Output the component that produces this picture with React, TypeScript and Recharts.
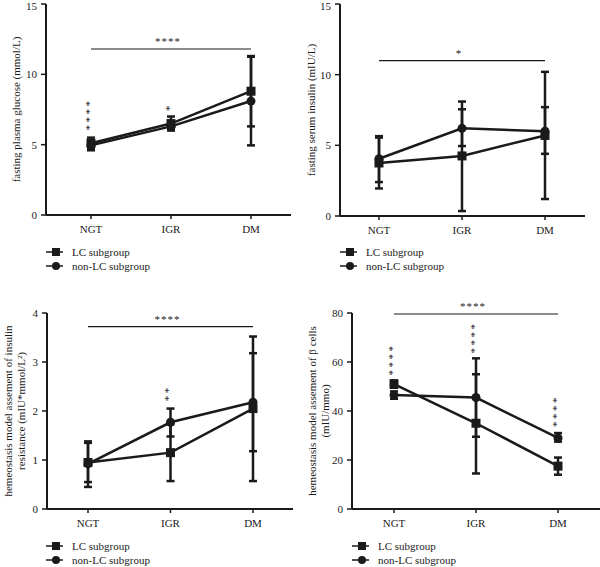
import React from 'react';
import { LineChart, Line, XAxis, YAxis, ErrorBar, ReferenceLine, ReferenceDot } from 'recharts';

const groups = ['NGT', 'IGR', 'DM'];

// fasting plasma glucose (mmol/L)
const fpgLc = [5.1, 6.5, 8.8];
const fpgLcLow = [4.6, 6.0, 6.3];
const fpgLcHigh = [5.5, 7.0, 11.3];
const fpgNon = [4.95, 6.3, 8.1];
const fpgNonLow = [4.7, 6.1, 4.95];
const fpgNonHigh = [5.3, 6.6, 11.25];

// fasting serum insulin (mIU/L)
const finsLc = [3.75, 4.25, 5.7];
const finsLcLow = [1.95, 0.35, 1.2];
const finsLcHigh = [5.55, 8.1, 10.2];
const finsNon = [4.05, 6.2, 6.0];
const finsNonLow = [2.4, 4.95, 4.4];
const finsNonHigh = [5.65, 7.55, 7.7];

// HOMA-IR
const irLc = [0.95, 1.15, 2.05];
const irLcLow = [0.55, 0.57, 0.57];
const irLcHigh = [1.35, 1.73, 3.52];
const irNon = [0.92, 1.77, 2.18];
const irNonLow = [0.45, 1.48, 1.18];
const irNonHigh = [1.38, 2.05, 3.18];

// HOMA-beta
const betaLc = [51, 35, 17.5];
const betaLcLow = [49.5, 14.5, 14];
const betaLcHigh = [52.5, 55, 21];
const betaNon = [46.5, 45.5, 29];
const betaNonLow = [45, 29.5, 27.5];
const betaNonHigh = [48, 61.5, 31];

const FONT = '"Liberation Serif", "DejaVu Serif", serif';
const INK = '#1a1a1a';

function buildRows(lc: number[], lcLo: number[], lcHi: number[], non: number[], nonLo: number[], nonHi: number[]) {
  return groups.map((g, i) => ({
    name: g,
    lc: lc[i],
    lcErr: [lc[i] - lcLo[i], lcHi[i] - lc[i]],
    non: non[i],
    nonErr: [non[i] - nonLo[i], nonHi[i] - non[i]],
  }));
}

const SquareDot = (p: any) => {
  if (p.cx == null || p.cy == null) return <g key={p.key} />;
  return <rect key={p.key} x={p.cx - 4.5} y={p.cy - 4.5} width={9} height={9} fill={INK} />;
};

const CircleDot = (p: any) => {
  if (p.cx == null || p.cy == null) return <g key={p.key} />;
  return <circle key={p.key} cx={p.cx} cy={p.cy} r={4.5} fill={INK} />;
};

// vertical stack of asterisks, drawn as one rotated text starting at the bottom
const StarStack = ({ cx, cy, n }: any) => (
  <text
    x={cx}
    y={cy}
    transform={`rotate(-90 ${cx} ${cy})`}
    textAnchor="start"
    dominantBaseline="central"
    fontSize={11}
    fill={INK}
    fontFamily={FONT}
    letterSpacing={2.5}
  >
    {'*'.repeat(n)}
  </text>
);

const StarRow = ({ cx, cy, text }: any) => (
  <text x={cx} y={cy} textAnchor="middle" fontSize={11} fill={INK} fontFamily={FONT} letterSpacing={1}>{text}</text>
);

interface Stars { x: string; y: number; n: number; }

interface PanelProps {
  left: number;
  top: number;
  width: number;
  height: number;
  margin: { top: number; right: number; left: number; bottom: number };
  yWidth: number;
  pad: { left: number; right: number };
  data: any[];
  domain: [number, number];
  ticks: number[];
  title: string[];
  titleX: number;
  sig: number;
  sigText: string;
  stars: Stars[];
}

function Panel(p: PanelProps) {
  return (
    <div style={{ position: 'absolute', left: p.left, top: p.top }}>
      <LineChart width={p.width} height={p.height} data={p.data} margin={p.margin} style={{ overflow: 'visible' }}>
        <XAxis
          dataKey="name"
          padding={p.pad}
          axisLine={{ stroke: INK, strokeWidth: 2 }}
          tickLine={{ stroke: INK, strokeWidth: 1.5 }}
          tickSize={4}
          tickMargin={6}
          height={30}
          tick={{ fontSize: 11, fill: INK, fontFamily: FONT }}
        />
        <YAxis
          width={p.yWidth}
          domain={p.domain}
          ticks={p.ticks}
          allowDataOverflow
          axisLine={{ stroke: INK, strokeWidth: 2 }}
          tickLine={{ stroke: INK, strokeWidth: 1.5 }}
          tickSize={5}
          tickMargin={4}
          tick={{ fontSize: 11, fill: INK, fontFamily: FONT }}
          label={{
            content: (lp: any) => {
              const vb = lp.viewBox || {};
              const cy = vb.y + vb.height / 2;
              const n = p.title.length;
              return (
                <g>
                  {p.title.map((t, i) => {
                    const x = p.titleX + (i - (n - 1) / 2) * 13;
                    return (
                      <text key={i} x={x} y={cy} transform={`rotate(-90 ${x} ${cy})`} textAnchor="middle" dominantBaseline="central" fontSize={11} fill={INK} fontFamily={FONT}>
                        {t}
                      </text>
                    );
                  })}
                </g>
              );
            },
          }}
        />
        <ReferenceLine segment={[{ x: 'NGT', y: p.sig }, { x: 'DM', y: p.sig }]} stroke={INK} strokeWidth={1.2} ifOverflow="visible" />
        <ReferenceDot x="IGR" y={p.sig} r={0} ifOverflow="visible" shape={(sp: any) => <StarRow cx={sp.cx - 3} cy={sp.cy - 4} text={p.sigText} />} />
        {p.stars.map((s, i) => (
          <ReferenceDot key={i} x={s.x} y={s.y} r={0} ifOverflow="visible" shape={(sp: any) => <StarStack cx={sp.cx - 2} cy={sp.cy} n={s.n} />} />
        ))}
        <Line dataKey="lc" stroke={INK} strokeWidth={2.5} dot={SquareDot} isAnimationActive={false}>
          <ErrorBar dataKey="lcErr" width={4} stroke={INK} strokeWidth={2.5} direction="y" />
        </Line>
        <Line dataKey="non" stroke={INK} strokeWidth={2.5} dot={CircleDot} isAnimationActive={false}>
          <ErrorBar dataKey="nonErr" width={4} stroke={INK} strokeWidth={2.5} direction="y" />
        </Line>
      </LineChart>
    </div>
  );
}

function LegendBox({ left, top }: { left: number; top: number }) {
  return (
    <svg style={{ position: 'absolute', left, top }} width={160} height={30}>
      <line x1={0} y1={6} x2={17} y2={6} stroke={INK} strokeWidth={1.5} />
      <rect x={6} y={2} width={8} height={8} fill={INK} />
      <text x={26} y={10} fontSize={11} fill={INK} fontFamily={FONT}>LC subgroup</text>
      <line x1={0} y1={20} x2={17} y2={20} stroke={INK} strokeWidth={1.5} />
      <circle cx={10} cy={20} r={4} fill={INK} />
      <text x={26} y={24} fontSize={11} fill={INK} fontFamily={FONT}>non-LC subgroup</text>
    </svg>
  );
}

export default function App() {
  return (
    <div style={{ position: 'absolute', left: 0, top: 0, width: 600, height: 567, background: '#fff', fontFamily: FONT }}>
      <Panel
        left={0} top={0} width={300} height={245}
        margin={{ top: 4, right: 9, left: 0, bottom: 0 }}
        yWidth={46} pad={{ left: 45, right: 40 }}
        data={buildRows(fpgLc, fpgLcLow, fpgLcHigh, fpgNon, fpgNonLow, fpgNonHigh)}
        domain={[0, 15]} ticks={[0, 5, 10, 15]}
        title={['fasting plasma glucose (mmol/L)']} titleX={16}
        sig={11.8} sigText="****"
        stars={[{ x: 'NGT', y: 6.0, n: 4 }, { x: 'IGR', y: 7.4, n: 1 }]}
      />
      <Panel
        left={300} top={0} width={300} height={246}
        margin={{ top: 4, right: 15, left: 0, bottom: 0 }}
        yWidth={40} pad={{ left: 39, right: 40 }}
        data={buildRows(finsLc, finsLcLow, finsLcHigh, finsNon, finsNonLow, finsNonHigh)}
        domain={[0, 15]} ticks={[0, 5, 10, 15]}
        title={['fasting serum insulin (mIU/L)']} titleX={11}
        sig={11.0} sigText="*"
        stars={[]}
      />
      <Panel
        left={0} top={300} width={300} height={239}
        margin={{ top: 13, right: 7, left: 0, bottom: 0 }}
        yWidth={47} pad={{ left: 41, right: 40 }}
        data={buildRows(irLc, irLcLow, irLcHigh, irNon, irNonLow, irNonHigh)}
        domain={[0, 4]} ticks={[0, 1, 2, 3, 4]}
        title={['hemeostasis model assement of insulin', 'resistance (mIU*mmol/L²)']} titleX={14}
        sig={3.72} sigText="****"
        stars={[{ x: 'IGR', y: 2.2, n: 2 }]}
      />
      <Panel
        left={300} top={300} width={300} height={239}
        margin={{ top: 13, right: 0, left: 0, bottom: 0 }}
        yWidth={52} pad={{ left: 42, right: 42 }}
        data={buildRows(betaLc, betaLcLow, betaLcHigh, betaNon, betaNonLow, betaNonHigh)}
        domain={[0, 80]} ticks={[0, 20, 40, 60, 80]}
        title={['hemeostasis model assement of β cells', '(mIU/mmo)']} titleX={18}
        sig={79.6} sigText="****"
        stars={[{ x: 'NGT', y: 54.5, n: 4 }, { x: 'IGR', y: 63.5, n: 4 }, { x: 'DM', y: 33.5, n: 4 }]}
      />
      <LegendBox left={46} top={246} />
      <LegendBox left={340} top={246} />
      <LegendBox left={46} top={540} />
      <LegendBox left={352} top={540} />
    </div>
  );
}
